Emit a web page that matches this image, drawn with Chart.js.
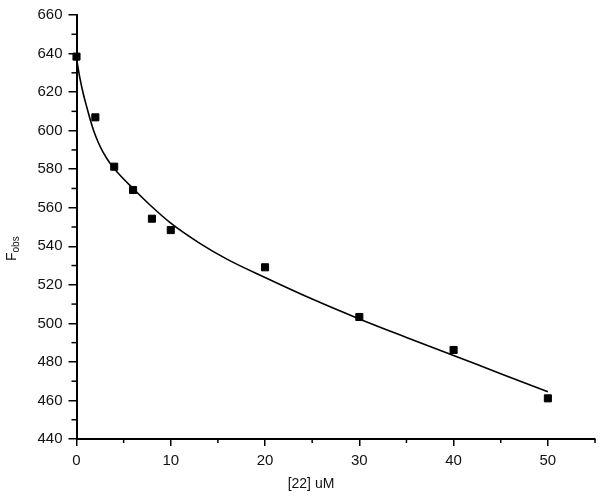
<!DOCTYPE html>
<html>
<head>
<meta charset="utf-8">
<script src="https://cdn.jsdelivr.net/npm/chart.js@4/dist/chart.umd.min.js"></script>
<style>
  html, body { margin: 0; padding: 0; background: #fff; }
  #wrap { width: 601px; height: 497px; }
</style>
</head>
<body>
<div id="wrap"><canvas id="chart" width="601" height="497"></canvas></div>
<script>
// measured points
const concX = [0, 2, 4, 6, 8, 10, 20, 30, 40, 50];
const fobs = [638.4, 606.9, 581.3, 569.2, 554.3, 548.4, 529.1, 503.3, 486.2, 461.1];

// fitted curve
const fitX = [0, 0.35, 0.7, 1.1, 1.5, 1.85, 2.3, 2.8, 3.5, 4.5, 6, 8, 10, 13, 16, 20, 25, 30, 35, 40, 45, 50];
const fitY = [637.5, 627.5, 619.5, 612, 605, 599.5, 594, 589, 583.5, 577.5, 570, 560.5, 552, 541.8, 533.2, 523.8, 512.6, 502.3, 492.7, 483.3, 473.9, 464.5];

const xMajorTicks = [0, 10, 20, 30, 40, 50];
const xMinorTicks = [5, 15, 25, 35, 45, 55];
const yMinorTicks = [450, 470, 490, 510, 530, 550, 570, 590, 610, 630, 650];

const FONT = "'Liberation Sans', Arial, sans-serif";

// minor ticks + axis titles
const extras = {
    id: 'extras',
    afterDraw(chart) {
        const ctx = chart.ctx;
        const xs = chart.scales.x, ys = chart.scales.y;
        ctx.save();
        ctx.strokeStyle = '#000';
        ctx.lineWidth = 1.5;
        xMinorTicks.forEach(v => {
            const px = xs.getPixelForValue(v);
            ctx.beginPath();
            ctx.moveTo(px, xs.top);
            ctx.lineTo(px, xs.top + 4);
            ctx.stroke();
        });
        yMinorTicks.forEach(v => {
            const py = ys.getPixelForValue(v);
            ctx.beginPath();
            ctx.moveTo(ys.right, py);
            ctx.lineTo(ys.right - 5, py);
            ctx.stroke();
        });

        ctx.fillStyle = '#111';
        ctx.font = '14px ' + FONT;
        ctx.textAlign = 'center';
        ctx.textBaseline = 'middle';
        ctx.fillText('[22] uM', 311, 484);

        // y title: F with subscript obs
        ctx.translate(16, 251);
        ctx.rotate(-Math.PI / 2);
        ctx.textAlign = 'left';
        ctx.textBaseline = 'alphabetic';
        ctx.font = '14px ' + FONT;
        const fw = ctx.measureText('F').width;
        ctx.fillText('F', -10, 0);
        ctx.font = '10px ' + FONT;
        ctx.fillText('obs', -10 + fw, 3);
        ctx.restore();
    }
};

new Chart(document.getElementById('chart'), {
    type: 'scatter',
    data: {
        datasets: [
            {
                label: 'fit',
                data: fitX.map((x, i) => ({ x, y: fitY[i] })),
                showLine: true,
                borderColor: '#000',
                borderWidth: 1.6,
                pointRadius: 0,
                cubicInterpolationMode: 'monotone'
            },
            {
                label: 'Fobs',
                data: concX.map((x, i) => ({ x, y: fobs[i] })),
                pointStyle: 'rect',
                pointRadius: 5,
                backgroundColor: '#000',
                borderColor: '#000',
                borderWidth: 1,
                clip: false
            }
        ]
    },
    options: {
        responsive: false,
        animation: false,
        layout: { padding: { left: 0, right: 5, top: 15, bottom: 0 } },
        plugins: { legend: { display: false }, tooltip: { enabled: false } },
        scales: {
            x: {
                type: 'linear',
                min: 0,
                max: 55,
                afterFit: s => { s.height = 58; },
                border: { display: true, color: '#000', width: 2 },
                grid: { drawOnChartArea: false, color: '#000', lineWidth: 1.5, tickLength: 7 },
                afterBuildTicks: s => { s.ticks = xMajorTicks.map(v => ({ value: v })); },
                ticks: { color: '#111', font: { family: FONT, size: 15 }, padding: 6, maxRotation: 0 }
            },
            y: {
                min: 440,
                max: 660,
                afterFit: s => { s.width = 76.5; },
                border: { display: true, color: '#000', width: 2 },
                grid: { drawOnChartArea: false, color: '#000', lineWidth: 1.5, tickLength: 8 },
                ticks: { stepSize: 20, color: '#111', font: { family: FONT, size: 15 }, padding: 6 }
            }
        }
    },
    plugins: [extras]
});
</script>
</body>
</html>
